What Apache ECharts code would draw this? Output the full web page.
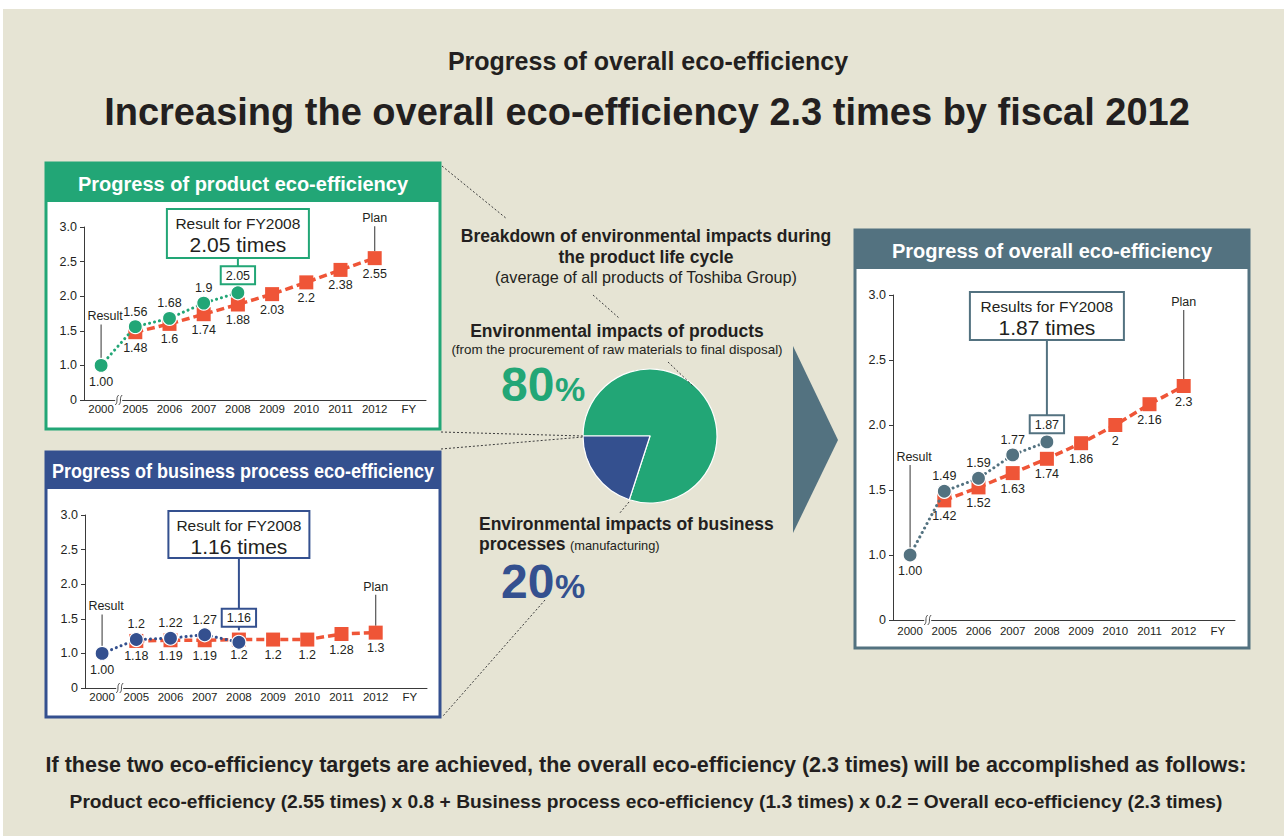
<!DOCTYPE html>
<html>
<head>
<meta charset="utf-8">
<title>Progress of overall eco-efficiency</title>
<script src="https://cdn.jsdelivr.net/npm/echarts@6/dist/echarts.min.js"></script>
<style>
  html, body { margin: 0; padding: 0; background: #ffffff; }
  #main { width: 1284px; height: 836px; }
</style>
</head>
<body>
<div id="main"></div>
<script>
// ---- data ----
const years = ['2000', '2005', '2006', '2007', '2008', '2009', '2010', '2011', '2012', 'FY'];
const productResult = [1.00, 1.56, 1.68, 1.9, 2.05];
const productPlan = [null, 1.48, 1.6, 1.74, 1.88, 2.03, 2.2, 2.38, 2.55];
const businessResult = [1.00, 1.2, 1.22, 1.27, 1.16];
const businessPlan = [null, 1.18, 1.19, 1.19, 1.2, 1.2, 1.2, 1.28, 1.3];
const overallResult = [1.00, 1.49, 1.59, 1.77, 1.87];
const overallPlan = [null, 1.42, 1.52, 1.63, 1.74, 1.86, 2, 2.16, 2.3];
const impactNames = ['Environmental impacts of products', 'Environmental impacts of business processes'];
const impactShares = [80, 20];
const yAxisMin = 0.5, yAxisMax = 3.0, yAxisStep = 0.5;   // broken axis: bottom tick reads "0"

// ---- style ----
const FONT = '"Liberation Sans", Arial, Helvetica, sans-serif';
const C = {
  bg: '#e6e4d4', green: '#22a676', blue: '#34508f', slate: '#537280',
  red: '#ef5537', ink: '#231f20', axis: '#3a3a3a', lead: '#555555'
};

const panels = [
  { x: 46, y: 163, w: 394, h: 266, head: 39, color: C.green, title: 'Progress of product eco-efficiency', sx: 1 },
  { x: 46, y: 452, w: 394, h: 265, head: 37, color: C.blue, title: 'Progress of business process eco-efficiency', sx: 0.9 },
  { x: 855, y: 230, w: 394, h: 418, head: 39, color: C.slate, title: 'Progress of overall eco-efficiency', sx: 1 }
];
const grids = [
  { left: 84, top: 227, width: 342, height: 173 },
  { left: 85, top: 515, width: 342, height: 173 },
  { left: 893, top: 295, width: 342, height: 325 }
];
const charts = [
  { result: productResult, plan: productPlan, color: C.green, boxDist: 3, head: 'Result for FY',
    box: { w: 142, top: 209, h: 49 }, resultLift: 49, planLift: 40 },
  { result: businessResult, plan: businessPlan, color: C.blue, boxDist: 10, head: 'Result for FY',
    box: { w: 141, top: 511, h: 47 }, resultLift: 47, planLift: 46 },
  { result: overallResult, plan: overallPlan, color: C.slate, boxDist: 3, head: 'Results for FY',
    box: { w: 154, top: 292, h: 48 }, resultLift: 98, planLift: 84 }
];

function txt(x, y, text, o) {
  o = o || {};
  const style = {
    text: text, x: x, y: y, fill: o.color || C.ink,
    fontSize: o.size || 12, fontWeight: o.weight || 'normal', fontFamily: FONT,
    textAlign: o.align || 'center', align: o.align || 'center',
    textVerticalAlign: 'middle', verticalAlign: 'middle'
  };
  if (o.lh) style.lineHeight = o.lh;
  return { type: 'text', z: o.z || 5, scaleX: o.sx || 1, originX: x, originY: y, style: style };
}
function seg(x1, y1, x2, y2, o) {
  o = o || {};
  return {
    type: 'line', z: o.z || 3,
    shape: { x1: x1, y1: y1, x2: x2, y2: y2 },
    style: { stroke: o.color || '#444', lineWidth: o.width || 1, lineDash: o.dash || null }
  };
}

// ---- axes & series ----
const xAxes = grids.map((g, i) => ({
  type: 'category', gridIndex: i, data: years, boundaryGap: true, z: 2,
  axisLine: { lineStyle: { color: C.axis, width: 1 } },
  axisTick: { show: false },
  axisLabel: { color: C.ink, fontSize: 11.5, fontFamily: FONT, margin: i === 2 ? 5 : 3, interval: 0 }
}));
const yAxes = grids.map((g, i) => ({
  type: 'value', gridIndex: i, min: yAxisMin, max: yAxisMax, interval: yAxisStep, z: 2,
  axisLine: { show: true, lineStyle: { color: C.axis, width: 1 } },
  axisTick: { show: true, length: 4, lineStyle: { color: C.axis } },
  splitLine: { show: false },
  axisLabel: {
    color: C.ink, fontSize: 12.5, fontFamily: FONT, margin: 7,
    formatter: v => (v === yAxisMin ? '0' : v.toFixed(1))
  }
}));

const valueText = p => (p.dataIndex === 0 ? Number(p.value).toFixed(2) : String(p.value));

const series = [];
charts.forEach((c, g) => {
  series.push({
    type: 'line', xAxisIndex: g, yAxisIndex: g, z: 3,
    data: c.plan.map(v => (v === null ? '-' : v)),
    symbol: 'rect', symbolSize: 14, showSymbol: true, showAllSymbol: true,
    itemStyle: { color: C.red },
    lineStyle: { color: C.red, width: 3.5, type: [8, 4] },
    label: { show: true, position: 'bottom', distance: 2, color: C.ink, fontSize: 12.5, fontFamily: FONT, formatter: valueText },
    emphasis: { disabled: true }, silent: true, animation: false
  });
  series.push({
    type: 'line', xAxisIndex: g, yAxisIndex: g, z: 4,
    data: c.result.map((v, i) => {
      let label;
      if (i === 0) label = { position: 'bottom', distance: 2 };
      else if (i === c.result.length - 1) label = {
        position: 'top', distance: c.boxDist - 1, backgroundColor: '#ffffff',
        borderColor: c.color, borderWidth: 2, padding: [2, 4, 1, 4]
      };
      else label = { position: 'top', distance: 1 };
      return { value: v, label: label };
    }),
    symbol: 'circle', symbolSize: 14, showSymbol: true, showAllSymbol: true,
    itemStyle: { color: c.color, borderColor: '#ffffff', borderWidth: 1.2 },
    lineStyle: { color: c.color, width: 3, type: [0.1, 5], cap: 'round' },
    label: { show: true, color: C.ink, fontSize: 12.5, fontFamily: FONT, formatter: valueText },
    emphasis: { disabled: true }, silent: true, animation: false
  });
});

series.push({
  type: 'pie', center: [650, 436], radius: 67, startAngle: 180, clockwise: true,
  label: { show: false }, labelLine: { show: false }, silent: true, animation: false,
  emphasis: { disabled: true },
  itemStyle: { borderColor: '#ffffff', borderWidth: 1.2 },
  data: impactShares.map((v, i) => ({ name: impactNames[i], value: v, itemStyle: { color: [C.green, C.blue][i] } }))
});

// ---- static decoration ----
const staticGraphics = [];
staticGraphics.push({ type: 'rect', z: 0, shape: { x: 3, y: 9, width: 1281, height: 827 }, style: { fill: C.bg } });

panels.forEach(p => {
  staticGraphics.push({ type: 'rect', z: 1, shape: { x: p.x, y: p.y, width: p.w, height: p.h },
    style: { fill: '#ffffff', stroke: p.color, lineWidth: 3 } });
  staticGraphics.push({ type: 'rect', z: 1, shape: { x: p.x, y: p.y, width: p.w, height: p.head },
    style: { fill: p.color } });
  staticGraphics.push(txt(p.x + p.w / 2, p.y + p.head / 2 + 1, p.title,
    { color: '#ffffff', size: 20, weight: 'bold', sx: p.sx }));
});

// arrow toward the overall panel
staticGraphics.push({ type: 'polygon', z: 1, shape: { points: [[793, 346], [838, 440], [793, 533]] },
  style: { fill: C.slate } });

// dotted leader lines
const dots = { dash: [2, 2], color: '#3d3d3d', width: 1 };
[
  [442, 166, 507, 219], [593, 295, 619, 318], [668, 362, 694, 387],
  [441, 432, 583, 436], [441, 449, 583, 437], [629, 502, 619, 514], [545, 600, 443, 716]
].forEach(s => staticGraphics.push(seg(s[0], s[1], s[2], s[3], dots)));

// headings
staticGraphics.push(txt(648, 61, 'Progress of overall eco-efficiency', { size: 25, weight: 'bold' }));
staticGraphics.push(txt(647, 112, 'Increasing the overall eco-efficiency 2.3 times by fiscal 2012', { size: 38, weight: 'bold' }));

// centre block
staticGraphics.push(txt(646, 236, 'Breakdown of environmental impacts during', { size: 17.5, weight: 'bold' }));
staticGraphics.push(txt(646, 257, 'the product life cycle', { size: 17.5, weight: 'bold' }));
staticGraphics.push(txt(646, 277, '(average of all products of Toshiba Group)', { size: 16.2 }));
staticGraphics.push(txt(617, 331, impactNames[0], { size: 17.5, weight: 'bold' }));
staticGraphics.push(txt(617, 349, '(from the procurement of raw materials to final disposal)', { size: 13.4 }));
staticGraphics.push(txt(501, 384, String(impactShares[0]), { size: 48, weight: 'bold', color: C.green, align: 'left', lh: 36 }));
staticGraphics.push(txt(555, 389, '%', { size: 34, weight: 'bold', color: C.green, align: 'left', lh: 28 }));
staticGraphics.push(txt(479, 524, 'Environmental impacts of business', { size: 17.5, weight: 'bold', align: 'left', lh: 18 }));
staticGraphics.push(txt(479, 544, 'processes', { size: 17.5, weight: 'bold', align: 'left', lh: 18 }));
staticGraphics.push(txt(570, 545, '(manufacturing)', { size: 12.8, align: 'left', lh: 14 }));
staticGraphics.push(txt(501, 581, String(impactShares[1]), { size: 48, weight: 'bold', color: C.blue, align: 'left', lh: 36 }));
staticGraphics.push(txt(555, 586, '%', { size: 34, weight: 'bold', color: C.blue, align: 'left', lh: 28 }));

// footnote
staticGraphics.push(txt(646, 765, 'If these two eco-efficiency targets are achieved, the overall eco-efficiency (2.3 times) will be accomplished as follows:', { size: 21.5, weight: 'bold' }));
staticGraphics.push(txt(646, 801, 'Product eco-efficiency (2.55 times) x 0.8 + Business process eco-efficiency (1.3 times) x 0.2 = Overall eco-efficiency (2.3 times)', { size: 19.2, weight: 'bold' }));

// ---- chart ----
const chart = echarts.init(document.getElementById('main'), null, { renderer: 'svg' });
chart.setOption({
  animation: false,
  grid: grids.map(g => Object.assign({ containLabel: false }, g)),
  xAxis: xAxes,
  yAxis: yAxes,
  series: series
});

// callouts and axis breaks placed from the chart's own scales
const dynamic = [];
charts.forEach((c, g) => {
  const at = (idx, v) => chart.convertToPixel({ xAxisIndex: g, yAxisIndex: g }, [idx, v]);
  const last = c.result.length - 1;
  const p08 = at(last, c.result[last]);
  const p00 = at(0, c.result[0]);
  const planLast = c.plan.length - 1;
  const pPlan = at(planLast, c.plan[planLast]);
  const p05 = at(1, yAxisMin);
  const base = at(0, yAxisMin);

  // axis break between the first two years
  const bx = (base[0] + p05[0]) / 2 + 1, by = base[1];
  dynamic.push({ type: 'rect', z: 30, shape: { x: bx - 4, y: by - 2, width: 7, height: 4 }, style: { fill: '#ffffff' } });
  [-2, 1.5].forEach(off => dynamic.push({
    type: 'bezierCurve', z: 31,
    shape: { x1: bx + off - 2, y1: by + 5, x2: bx + off + 1.5, y2: by - 5, cpx1: bx + off + 1.5, cpy1: by + 2, cpx2: bx + off - 2, cpy2: by - 2 },
    style: { stroke: C.axis, lineWidth: 0.9, fill: null }
  }));

  // result callout box
  const bxL = p08[0] - c.box.w / 2;
  dynamic.push({ type: 'rect', z: 4, shape: { x: bxL, y: c.box.top, width: c.box.w, height: c.box.h },
    style: { fill: '#ffffff', stroke: c.color, lineWidth: 2 } });
  dynamic.push(seg(p08[0], c.box.top + c.box.h, p08[0], p08[1] - 12, { color: c.color, width: 2, z: 2 }));
  dynamic.push(txt(p08[0], c.box.top + 14, c.head + years[last], { size: 15.5, z: 6 }));
  dynamic.push(txt(p08[0], c.box.top + 35, String(c.result[last]) + ' times', { size: 21, z: 6 }));

  // "Result" and "Plan" leaders
  dynamic.push(txt(p00[0] + 4, p00[1] - c.resultLift, 'Result', { size: 12.5 }));
  dynamic.push(seg(p00[0], p00[1] - c.resultLift + 8, p00[0], p00[1] - 7, { color: C.lead, width: 1.2, z: 2 }));
  dynamic.push(txt(pPlan[0], pPlan[1] - c.planLift, 'Plan', { size: 12.5 }));
  dynamic.push(seg(pPlan[0], pPlan[1] - c.planLift + 8, pPlan[0], pPlan[1] - 7, { color: C.lead, width: 1.2, z: 2 }));
});

chart.setOption({ graphic: { elements: staticGraphics.concat(dynamic) } });
</script>
</body>
</html>
